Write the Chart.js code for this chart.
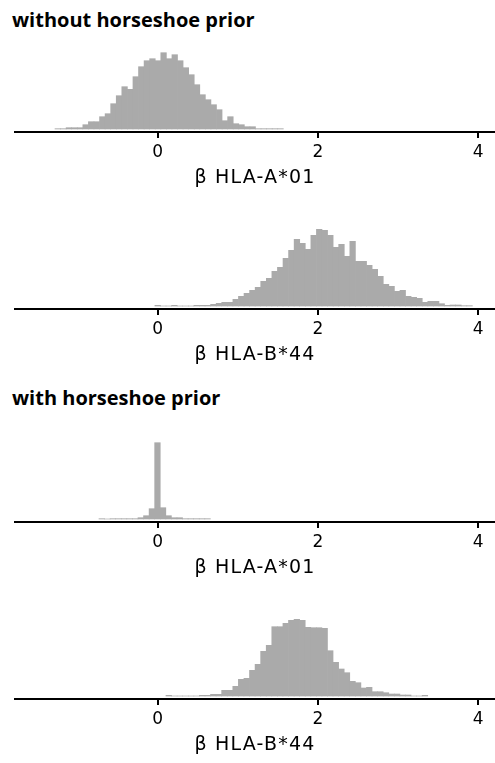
<!DOCTYPE html>
<html>
<head>
<meta charset="utf-8">
<script src="https://cdn.jsdelivr.net/npm/chart.js@4.4.1/dist/chart.umd.min.js"></script>
<style>
  html, body { margin: 0; padding: 0; background: #fff; }
  body { width: 495px; height: 763px; position: relative; overflow: hidden; }
  .title { position: absolute; left: 12px; font: bold 20px "Open Sans", sans-serif; color: #000; line-height: 26px; white-space: nowrap; }
  canvas { position: absolute; left: 0; }
</style>
</head>
<body>
<div class="title" style="top:7px">without horseshoe prior</div>
<canvas id="p1" width="495" height="142" style="top:48px"></canvas>
<canvas id="p2" width="495" height="142" style="top:225px"></canvas>
<div class="title" style="top:385px">with horseshoe prior</div>
<canvas id="p3" width="495" height="142" style="top:438px"></canvas>
<canvas id="p4" width="495" height="142" style="top:615px"></canvas>
<script>
// Posterior draws binned into histograms; every bin has the same width and
// each panel lists its bar heights from its own first bin edge.
const xMin = -1.78;
const xMax = 4.21;
const xTicks = [0, 2, 4];
const binWidth = 0.0695;

const noPriorA01Start = -1.281;
const noPriorA01 = [0.3, 0.3, 1.3, 1.3, 1.3, 4.3, 7.3, 7.3, 12.3, 15.3,
  25.3, 33.3, 42.3, 39.7, 52.3, 62.3, 68.3, 70.3, 68.3, 76.3,
  70.3, 74.3, 68.3, 61.3, 54.3, 44.3, 34.3, 29.3, 24.3, 19.3,
  8.3, 12.3, 5.3, 4.3, 2.3, 2.3, 0.3, 0.3, 0.3, 0.3, 0.3];

const noPriorB44Start = -0.034;
const noPriorB44 = [0.7, 0, 0, 0.7, 0, 0, 0, 0.7, 0.7, 0.7,
  1.7, 2.7, 3.7, 3.7, 6.7, 9.7, 12.7, 15.7, 18.7, 24.7,
  27.7, 34.7, 38.7, 47.7, 55.7, 66.7, 62.7, 56.7, 70.7, 76.7,
  75.7, 70.7, 58.7, 61.7, 49.7, 64.7, 44.7, 44.7, 40.7, 36.7,
  29.7, 21.7, 19.7, 14.7, 15.7, 9.7, 8.7, 7.7, 3.7, 4.7,
  4.7, 2.3, 0.7, 1.0, 1.0, 0.3, 0.3];

const hsA01Start = -0.732;
const hsA01 = [0.3, 0, 0.3, 0.3, 0.3, 0.3, 0.3, 1.3, 3.3, 10.3,
  76.3, 11.3, 3.3, 1.3, 1.3, 0.3, 0.3, 0.3, 0.3, 0.3];

const hsB44Start = 0.104;
const hsB44 = [0.7, 0, 0, 0, 0, 0, 0.7, 0.7, 1.7, 1.7,
  5.7, 5.7, 9.7, 16.7, 17.7, 25.7, 31.7, 44.7, 50.7, 69.3,
  69.3, 72.7, 75.7, 76.7, 75.7, 68.7, 68.3, 68.3, 67.7, 45.3,
  33.7, 27, 23.3, 14.7, 13.3, 8, 8.7, 4.3, 4.3, 3.3,
  2, 2, 1, 1, 0, 0, 0.7];

const labelA01 = "β HLA-A*01";
const labelB44 = "β HLA-B*44";

const barColor = "#aaaaaa";
const inkColor = "#000000";
const tickFont = { family: "DejaVu Sans", size: 17 };
const titleFont = { family: "DejaVu Sans", size: 19 };

// The axis titles in the source are set a little wider than the tick digits,
// so only the title gets extra letter spacing.
class WideTitleScale extends Chart.LinearScale {
  drawTitle() {
    const ctx = this.ctx;
    ctx.save();
    ctx.letterSpacing = "1.2px";
    super.drawTitle();
    ctx.restore();
  }
}
WideTitleScale.id = "wideTitle";
WideTitleScale.defaults = Chart.LinearScale.defaults;
Chart.register(WideTitleScale);

function drawPanel(id, start, counts, label) {
  const points = counts.map((c, i) => ({ x: start + (i + 0.5) * binWidth, y: c }));
  return new Chart(document.getElementById(id), {
    type: "bar",
    data: {
      datasets: [{
        data: points,
        backgroundColor: barColor,
        borderWidth: 0,
        barPercentage: 1,
        categoryPercentage: 1,
      }],
    },
    options: {
      responsive: false,
      animation: false,
      layout: { padding: { left: 15, right: 0, top: 0, bottom: 0 } },
      plugins: { legend: { display: false }, tooltip: { enabled: false } },
      scales: {
        x: {
          type: "wideTitle",
          min: xMin,
          max: xMax,
          offset: false,
          afterBuildTicks: (s) => { s.ticks = xTicks.map((v) => ({ value: v })); },
          afterFit: (s) => { s.height = 58; },
          grid: { offset: false, drawOnChartArea: false, tickLength: 6, color: inkColor, lineWidth: 2 },
          border: { color: inkColor, width: 2 },
          ticks: { color: inkColor, font: tickFont, padding: 4, maxRotation: 0 },
          title: { display: true, text: label, color: inkColor, font: titleFont, padding: { top: 0, bottom: 0.5 } },
        },
        y: { display: false, min: -3, max: 81 },
      },
    },
  });
}

drawPanel("p1", noPriorA01Start, noPriorA01, labelA01);
drawPanel("p2", noPriorB44Start, noPriorB44, labelB44);
drawPanel("p3", hsA01Start, hsA01, labelA01);
drawPanel("p4", hsB44Start, hsB44, labelB44);
</script>
</body>
</html>
